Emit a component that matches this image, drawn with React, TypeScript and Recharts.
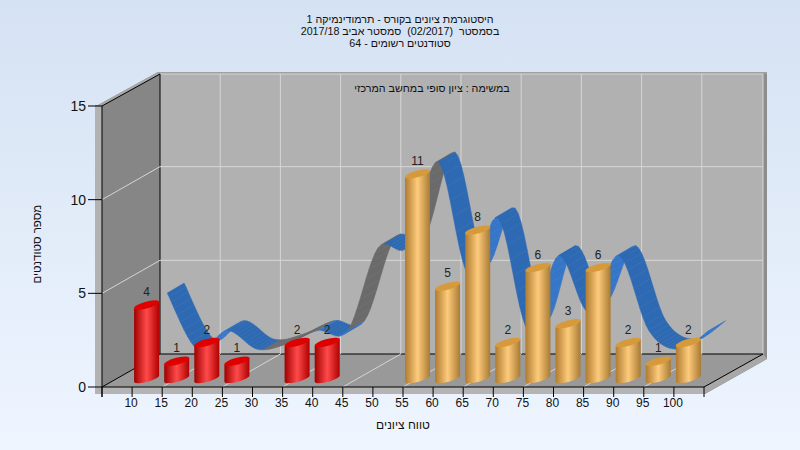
import React from 'react';
import { Bar, CartesianGrid, ComposedChart, LabelList, Line, XAxis, YAxis } from 'recharts';

const bandLabels = ['', '10', '15', '20', '25', '30', '35', '40', '45', '50', '55', '60', '65', '70', '75', '80', '85', '90', '95', '100'];
const studentCounts = [null, 4, 1, 2, 1, null, 2, 2, null, null, 11, 5, 8, 2, 6, 3, 6, 2, 1, 2];
const trendValues = [null, 4, 1, 2, 1, 1.3, 2, 2, 6.4, 6.5, 11, 5, 8, 2, 6, 3, 6, 2, 1, 2];
const yTicks = [0, 5, 10, 15];
const titleLines = [
    'היסטוגרמת ציונים בקורס - תרמודינמיקה 1',
    'בסמסטר  (02/2017)  סמסטר אביב 2017/18',
    'סטודנטים רשומים - 64'
];
const subtitle = 'במשימה : ציון סופי במחשב המרכזי';

const data = bandLabels.map((band, i) => ({ band, count: studentCounts[i], trend: trendValues[i] }));

const FONT = '"Liberation Sans", Arial, sans-serif';
const LEFT = 102;
const RIGHT = 704;
const TOP = 106;
const BOTTOM = 387;
const DX = 58;
const DY = -33;
const BAND = (RIGHT - LEFT) / bandLabels.length;
const PASS_FROM = 55; // bands from this grade up are drawn in orange
const gridX = Array.from({ length: 9 }, (_, i) => LEFT + BAND * (2 + 2 * i));

// the box the chart stands in: walls, floor and their bevel
function Room() {
    const l = LEFT + DX;
    const r = RIGHT + DX + 1;
    const t = TOP + DY + 1;
    const b = BOTTOM + DY;
    return (
        <svg width={800} height={450} style={{ position: 'absolute', left: 0, top: 0 }}>
            <polygon points={`95,105 98,105 ${l - 2},${t - 2} ${r + 4},${t - 2} ${r + 4},${b + 5} ${RIGHT + 1},394 95,394`} fill="#8d8d8d" />
            <polygon points={`98,105 ${l - 2},${t - 2} ${l},${t} ${LEFT},${TOP}`} fill="#a6a6a6" />
            <rect x={l - 2} y={t - 2} width={r - l + 6} height={2} fill="#a0a0a0" />
            <rect x={95} y={TOP} width={7} height={288} fill="#b2b2b2" />
            <rect x={LEFT} y={BOTTOM} width={RIGHT - LEFT} height={7} fill="#b4b4b4" />
            <polygon points={`${RIGHT},${BOTTOM} ${r},${b} ${r + 4},${b + 5} ${RIGHT},394`} fill="#a8a8a8" />
            <rect x={l} y={t} width={r - l} height={b - t} fill="#b1b1b1" />
            <polygon points={`${LEFT},${TOP} ${l},${t} ${l},${b} ${LEFT},${BOTTOM}`} fill="#868686" />
            <polygon points={`${LEFT},${BOTTOM} ${l},${b} ${r},${b} ${RIGHT},${BOTTOM}`} fill="#999999" />
            <path d={`M${l} ${t}H${r}V${b}`} fill="none" stroke="#d6d6d6" strokeWidth={1} />
            <path
                d={`M${LEFT} ${TOP}L${l} ${t}V${b}H${r}L${RIGHT} ${BOTTOM}V397M${LEFT} ${BOTTOM}L${l} ${b}M${LEFT} ${BOTTOM}V397`}
                fill="none"
                stroke="#000"
                strokeWidth={1}
            />
        </svg>
    );
}

function HorizontalGridLine({ x1, x2, y1 }: any) {
    if (y1 <= TOP + 1 || y1 >= BOTTOM - 1) return <g />;
    return <polyline points={`${x1},${y1} ${x1 + DX},${y1 + DY} ${x2 + DX + 1},${y1 + DY}`} fill="none" stroke="#d6d6d6" />;
}

function VerticalGridLine({ x1, y1, y2 }: any) {
    return <polyline points={`${x1},${y2} ${x1 + DX},${y2 + DY} ${x1 + DX},${y1 + DY + 1}`} fill="none" stroke="#d6d6d6" />;
}

function XTick({ x, y, payload }: any) {
    const left = x - BAND / 2;
    return (
        <g>
            <line x1={left} x2={left} y1={y} y2={y + 10} stroke="#000" />
            <text x={left - 1} y={y + 20} textAnchor="middle" fontSize={12} fontFamily={FONT} fill="#111">
                {payload.value}
            </text>
        </g>
    );
}

function Cylinder({ x: barX, y, width, height, payload }: any) {
    if (!height) return <g />;
    const x = barX - 1;
    const base = y + height - 8.5;
    const top = y - 7;
    const rx = width / 2 + 0.4;
    const pass = Number(payload.band) >= PASS_FROM;
    const arc = `A${rx} 3.4 -15 0 0`;
    return (
        <g>
            <path d={`M${x} ${top + 3.5}V${base + 3.5}${arc} ${x + width} ${base - 3.5}V${top - 3.5}Z`} fill={pass ? 'url(#barOrange)' : 'url(#barRed)'} />
            <path d={`M${x} ${top + 3.5}${arc} ${x + width} ${top - 3.5}${arc} ${x} ${top + 3.5}Z`} fill={pass ? '#d69a3a' : '#df0000'} />
        </g>
    );
}

// value at t on the cardinal spline through the four points
function spline(p0: number, p1: number, p2: number, p3: number, t: number) {
    const m1 = (p2 - p0) / 2;
    const m2 = (p3 - p1) / 2;
    const t2 = t * t;
    const t3 = t2 * t;
    return (2 * t3 - 3 * t2 + 1) * p1 + (t3 - 2 * t2 + t) * m1 + (-2 * t3 + 3 * t2) * p2 + (t3 - t2) * m2;
}

// the trend line is a flat ribbon running back into the depth of the chart
function Ribbon({ index, points }: any) {
    if (index !== 1) return <g key={index} />;
    const pts = points.filter((p: any) => p.y != null).map((p: any) => ({ x: p.x + 20, y: p.y - 19 }));
    const quads = [];
    for (let i = 0; i < pts.length - 1; i++) {
        const a = pts[Math.max(i - 1, 0)];
        const b = pts[i];
        const c = pts[i + 1];
        const d = pts[Math.min(i + 2, pts.length - 1)];
        for (let s = 0; s < 10; s++) {
            const x1 = spline(a.x, b.x, c.x, d.x, s / 10);
            const y1 = spline(a.y, b.y, c.y, d.y, s / 10);
            const x2 = spline(a.x, b.x, c.x, d.x, (s + 1) / 10);
            const y2 = spline(a.y, b.y, c.y, d.y, (s + 1) / 10);
            const rising = y2 < y1;
            const grey = rising && ((i >= 3 && i < 5) || (i >= 6 && i < 9));
            const fill = grey ? '#6a6a6a' : rising ? '#3676c8' : '#2e6ab3';
            quads.push(
                <polygon
                    key={`${i}-${s}`}
                    points={`${x1},${y1} ${x2},${y2} ${x2 + 17},${y2 - 10} ${x1 + 17},${y1 - 10}`}
                    fill={fill}
                    stroke={fill}
                    strokeWidth={0.4}
                />
            );
        }
    }
    return <g key={index}>{quads}</g>;
}

export default function App() {
    return (
        <div style={{ position: 'absolute', left: 0, top: 0, width: 800, height: 450, overflow: 'hidden', background: 'linear-gradient(#d5e2f3, #eef5ff)', fontFamily: FONT }}>
            <Room />
            {/* grid, axes and ribbon sit under a second chart that holds the bars */}
            <ComposedChart
                width={800}
                height={450}
                data={data}
                margin={{ top: TOP, left: 52, right: 800 - RIGHT, bottom: 23 }}
                style={{ position: 'absolute', left: 0, top: 0 }}
            >
                <CartesianGrid
                    horizontal={(props: any) => <HorizontalGridLine key={props.key} {...props} />}
                    vertical={(props: any) => <VerticalGridLine key={props.key} {...props} />}
                    verticalPoints={gridX}
                />
                <XAxis
                    dataKey="band"
                    scale="band"
                    height={40}
                    interval={0}
                    stroke="#000"
                    tickLine={false}
                    tickSize={0}
                    tickMargin={0}
                    tick={<XTick />}
                    label={{ value: 'טווח ציונים', position: 'insideBottom', offset: -2, fontSize: 12, fontFamily: FONT, fill: '#111' }}
                />
                <YAxis
                    domain={[0, 15]}
                    ticks={yTicks}
                    width={50}
                    stroke="#000"
                    tickSize={14}
                    tickMargin={2}
                    tick={{ fontSize: 14, fontFamily: FONT, fill: '#111' }}
                    label={{ value: 'מספר סטודנטים', angle: -90, position: 'insideLeft', dx: -20, dy: 37, fontSize: 11.5, fontFamily: FONT, fill: '#111' }}
                />
                <Line dataKey="trend" stroke="none" dot={(props: any) => <Ribbon key={props.index} {...props} />} legendType="none" isAnimationActive={false} />
            </ComposedChart>
            <ComposedChart
                width={800}
                height={450}
                data={data}
                margin={{ top: TOP, left: LEFT, right: 800 - RIGHT, bottom: 450 - BOTTOM }}
                style={{ position: 'absolute', left: 0, top: 0 }}
            >
                <defs>
                    <linearGradient id="barRed" x1="0" y1="0" x2="1" y2="0">
                        <stop offset="0%" stopColor="#a00000" />
                        <stop offset="50%" stopColor="#ff4a4a" />
                        <stop offset="100%" stopColor="#b00000" />
                    </linearGradient>
                    <linearGradient id="barOrange" x1="0" y1="0" x2="1" y2="0">
                        <stop offset="0%" stopColor="#ae7b30" />
                        <stop offset="50%" stopColor="#fecb7c" />
                        <stop offset="100%" stopColor="#a87a32" />
                    </linearGradient>
                </defs>
                <XAxis dataKey="band" hide />
                <YAxis domain={[0, 15]} hide />
                <Bar dataKey="count" barSize={25} shape={<Cylinder />} isAnimationActive={false}>
                    <LabelList dataKey="count" position="top" offset={16} dx={-1} fontSize={12} fontFamily={FONT} fill="#222" />
                </Bar>
            </ComposedChart>
            <div style={{ position: 'absolute', left: 200, top: 13, width: 400, textAlign: 'center', fontSize: 10.7, lineHeight: '12px', color: '#111', whiteSpace: 'pre', direction: 'rtl' }}>
                {titleLines.map((line) => (
                    <div key={line}>{line}</div>
                ))}
            </div>
            <div style={{ position: 'absolute', left: 232, top: 82, width: 400, textAlign: 'center', fontSize: 10.7, color: '#111', direction: 'rtl' }}>{subtitle}</div>
        </div>
    );
}
